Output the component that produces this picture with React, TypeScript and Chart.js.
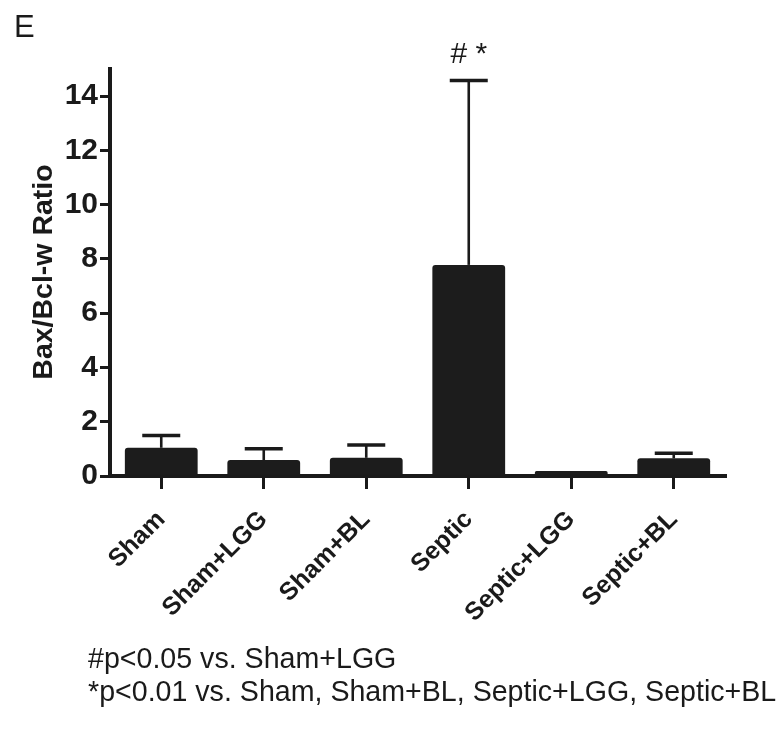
import React, { useEffect, useRef } from "react";
import { Chart, registerables } from "chart.js";

Chart.register(...registerables);

const categories = ["Sham", "Sham+LGG", "Sham+BL", "Septic", "Septic+LGG", "Septic+BL"];
const means = [1.04, 0.59, 0.67, 7.78, 0.18, 0.65];
const errors = [0.45, 0.41, 0.47, 6.8, 0, 0.19];
const yTicks = [0, 2, 4, 6, 8, 10, 12, 14];
const annotations = ["", "", "", "# *", "", ""];
const panelLabel = "E";
const yTitle = "Bax/Bcl-w Ratio";
const footnotes = ["#p<0.05 vs. Sham+LGG", "*p<0.01 vs. Sham, Sham+BL, Septic+LGG, Septic+BL"];

const INK = "#1a1a1a";
const FONT = "'Liberation Sans', Arial, Helvetica, sans-serif";

const errorBarPlugin = {
  id: "errorBars",
  afterDatasetsDraw(chart: any) {
    const ctx = chart.ctx;
    const meta = chart.getDatasetMeta(0);
    const y = chart.scales.y;
    ctx.save();
    ctx.strokeStyle = INK;
    ctx.lineCap = "butt";
    meta.data.forEach((bar: any, i: number) => {
      const e = errors[i];
      if (!e) return;
      const x = bar.x;
      const yb = y.getPixelForValue(means[i]);
      const yt = y.getPixelForValue(means[i] + e);
      ctx.lineWidth = 2.6;
      ctx.beginPath();
      ctx.moveTo(x, yb);
      ctx.lineTo(x, yt);
      ctx.stroke();
      ctx.lineWidth = 3.5;
      ctx.beginPath();
      ctx.moveTo(x - 19, yt);
      ctx.lineTo(x + 19, yt);
      ctx.stroke();
    });
    ctx.fillStyle = INK;
    ctx.font = `30px ${FONT}`;
    ctx.textAlign = "center";
    ctx.textBaseline = "alphabetic";
    meta.data.forEach((bar: any, i: number) => {
      if (!annotations[i]) return;
      const yt = y.getPixelForValue(means[i] + errors[i]);
      ctx.fillText(annotations[i], bar.x, yt - 17);
    });
    ctx.restore();
  },
  afterDraw(chart: any) {
    const ctx = chart.ctx;
    ctx.save();
    ctx.fillStyle = INK;
    ctx.textBaseline = "alphabetic";
    ctx.textAlign = "left";
    ctx.font = `31px ${FONT}`;
    ctx.fillText(panelLabel, 14, 37);
    ctx.font = `28.6px ${FONT}`;
    ctx.fillText(footnotes[0], 88, 668);
    ctx.fillText(footnotes[1], 88, 701);
    ctx.translate(44, 272);
    ctx.rotate(-Math.PI / 2);
    ctx.textAlign = "center";
    ctx.textBaseline = "middle";
    ctx.font = `bold 28.5px ${FONT}`;
    ctx.fillText(yTitle, 0, 0);
    ctx.restore();
  },
};

export default function App() {
  const ref = useRef<HTMLCanvasElement | null>(null);
  useEffect(() => {
    document.body.style.margin = "0";
    const canvas = ref.current!;
    const chart = new Chart(canvas, {
      type: "bar",
      data: {
        labels: categories,
        datasets: [
          {
            data: means,
            backgroundColor: "#1c1c1c",
            borderWidth: 0,
            borderRadius: 3,
            borderSkipped: "bottom",
            barPercentage: 0.71,
            categoryPercentage: 1.0,
          },
        ],
      },
      options: {
        animation: false,
        responsive: false,
        maintainAspectRatio: false,
        layout: { padding: { left: 0, right: 52, top: 69, bottom: 0 } },
        plugins: { legend: { display: false }, tooltip: { enabled: false } },
        scales: {
          x: {
            offset: true,
            grid: { display: true, offset: false, drawOnChartArea: false, tickLength: 13, lineWidth: 3, color: INK },
            border: { display: true, width: 4, color: INK },
            ticks: {
              color: INK,
              font: { family: FONT, size: 25, weight: "bold" },
              minRotation: 45,
              maxRotation: 45,
              padding: 16,
              autoSkip: false,
            },
            afterFit: (s: any) => {
              s.height = 257;
            },
          },
          y: {
            min: 0,
            max: 15,
            afterBuildTicks: (s: any) => {
              s.ticks = yTicks.map((v) => ({ value: v }));
            },
            grid: { display: true, drawOnChartArea: false, tickLength: 10, lineWidth: 3, color: INK },
            border: { display: true, width: 4, color: INK },
            ticks: {
              color: INK,
              font: { family: FONT, size: 30, weight: "bold" },
              padding: 2,
            },
            afterFit: (s: any) => {
              s.width = 110;
            },
          },
        },
      },
      plugins: [errorBarPlugin],
    });
    return () => chart.destroy();
  }, []);
  return <canvas ref={ref} width={777} height={733} style={{ display: "block" }} />;
}
